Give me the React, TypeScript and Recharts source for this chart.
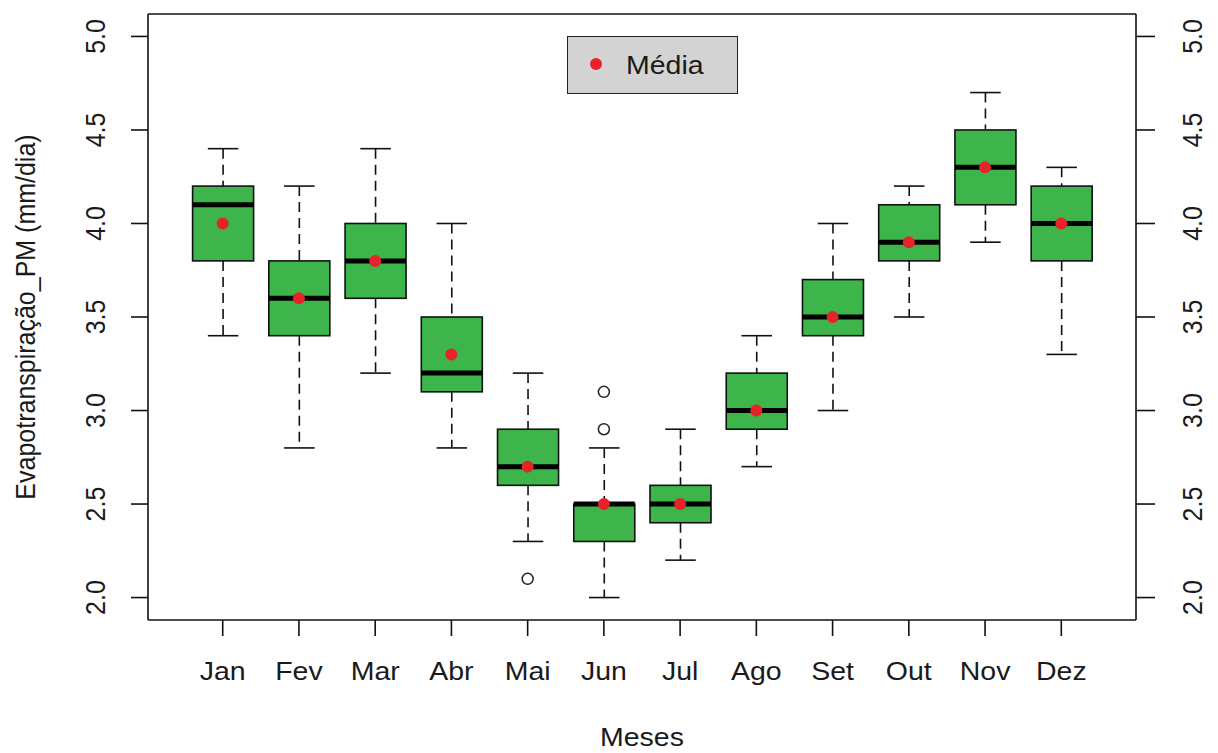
import React from 'react';
import {
  ComposedChart,
  Bar,
  Scatter,
  XAxis,
  YAxis,
} from 'recharts';

// ---- data ----
const months = ['Jan', 'Fev', 'Mar', 'Abr', 'Mai', 'Jun', 'Jul', 'Ago', 'Set', 'Out', 'Nov', 'Dez'];
const whiskerLow = [3.4, 2.8, 3.2, 2.8, 2.3, 2.0, 2.2, 2.7, 3.0, 3.5, 3.9, 3.3];
const q1 = [3.8, 3.4, 3.6, 3.1, 2.6, 2.3, 2.4, 2.9, 3.4, 3.8, 4.1, 3.8];
const medians = [4.1, 3.6, 3.8, 3.2, 2.7, 2.5, 2.5, 3.0, 3.5, 3.9, 4.3, 4.0];
const q3 = [4.2, 3.8, 4.0, 3.5, 2.9, 2.5, 2.6, 3.2, 3.7, 4.1, 4.5, 4.2];
const whiskerHigh = [4.4, 4.2, 4.4, 4.0, 3.2, 2.8, 2.9, 3.4, 4.0, 4.2, 4.7, 4.3];
const means = [4.0, 3.6, 3.8, 3.3, 2.7, 2.5, 2.5, 3.0, 3.5, 3.9, 4.3, 4.0];
const outlierMonth = [5, 6, 6];
const outlierValue = [2.1, 2.9, 3.1];
const yTicks = [2.0, 2.5, 3.0, 3.5, 4.0, 4.5, 5.0];
const xTicks = months.map((_, i) => i + 1);

const rows = months.map((m, i) => ({
  x: i + 1,
  month: m,
  range: [whiskerLow[i], whiskerHigh[i]],
  low: whiskerLow[i],
  q1: q1[i],
  median: medians[i],
  q3: q3[i],
  high: whiskerHigh[i],
  mean: means[i],
}));
const outliers = outlierMonth.map((m, i) => ({ x: m, y: outlierValue[i] }));

const FONT = '"Liberation Sans", Arial, Helvetica, sans-serif';
const TEXT = '#1a1a1a';
const SX = 1.14;
const FS = 25;
const GREEN = '#3db54a';
const RED = '#e8222a';

const BoxShape = (props: any) => {
  const { x, y, width, height, payload } = props;
  if (x == null || y == null) return null;
  const top = Math.min(y, y + height);
  const bot = Math.max(y, y + height);
  const lo = payload.low;
  const hi = payload.high;
  const pix = (v: number) => bot - ((v - lo) / (hi - lo)) * (bot - top);
  const cx = x + width / 2;
  const capW = width / 2;
  const yQ1 = pix(payload.q1);
  const yQ3 = pix(payload.q3);
  const yMed = pix(payload.median);
  return (
    <g>
      <line x1={cx} x2={cx} y1={top} y2={yQ3} stroke="#111" strokeWidth={1.6} strokeDasharray="10 6" />
      <line x1={cx} x2={cx} y1={yQ1} y2={bot} stroke="#111" strokeWidth={1.6} strokeDasharray="10 6" />
      <line x1={cx - capW / 2} x2={cx + capW / 2} y1={top} y2={top} stroke="#111" strokeWidth={1.6} />
      <line x1={cx - capW / 2} x2={cx + capW / 2} y1={bot} y2={bot} stroke="#111" strokeWidth={1.6} />
      <rect x={x} y={yQ3} width={width} height={yQ1 - yQ3} fill={GREEN} stroke="#111" strokeWidth={1.6} />
      <line x1={x} x2={x + width} y1={yMed} y2={yMed} stroke="#000" strokeWidth={5} />
    </g>
  );
};

const XTick = (props: any) => {
  const { x, y, payload } = props;
  return (
    <g transform={`translate(${x},${y + 36}) scale(${SX},1)`}>
      <text x={0} y={0} textAnchor="middle" dominantBaseline="central" fontFamily={FONT} fontSize={FS} fill={TEXT}>
        {months[payload.value - 1]}
      </text>
    </g>
  );
};

const makeYTick = (offset: number) => (props: any) => {
  const { x, y, payload } = props;
  return (
    <g transform={`translate(${x + offset},${y}) scale(${SX},1) rotate(-90)`}>
      <text x={0} y={0} textAnchor="middle" dominantBaseline="central" fontFamily={FONT} fontSize={FS} fill={TEXT}>
        {Number(payload.value).toFixed(1)}
      </text>
    </g>
  );
};
const LeftTick = makeYTick(-36);
const RightTick = makeYTick(37);

const XTitle = (props: any) => {
  const vb = props.viewBox || {};
  const cx = vb.x + vb.width / 2;
  return (
    <g transform={`translate(${cx},738) scale(${SX},1)`}>
      <text x={0} y={0} textAnchor="middle" dominantBaseline="central" fontFamily={FONT} fontSize={FS} fill={TEXT}>
        Meses
      </text>
    </g>
  );
};

const YTitle = (props: any) => {
  const vb = props.viewBox || {};
  const cy = vb.y + vb.height / 2;
  return (
    <g transform={`translate(25,${cy}) scale(${SX},1) rotate(-90)`}>
      <text x={0} y={0} textAnchor="middle" dominantBaseline="central" fontFamily={FONT} fontSize={FS} fill={TEXT}>
        Evapotranspiração_PM (mm/dia)
      </text>
    </g>
  );
};

const MeanDot = (props: any) => {
  const { cx, cy } = props;
  if (cx == null || cy == null) return null;
  return <circle cx={cx} cy={cy} r={6} fill={RED} />;
};

const OutlierDot = (props: any) => {
  const { cx, cy } = props;
  if (cx == null || cy == null) return null;
  return <circle cx={cx} cy={cy} r={5.5} fill="none" stroke="#222" strokeWidth={1.5} />;
};

const axisLine = { stroke: '#111', strokeWidth: 1.6 };
const tickLine = { stroke: '#111', strokeWidth: 1.6 };

export default function App() {
  return (
    <div style={{ position: 'absolute', left: 0, top: 0, width: 1218, height: 753, background: '#fff' }}>
      <ComposedChart
        width={1218}
        height={753}
        data={rows}
        margin={{ top: 0, right: 0, bottom: 0, left: 0 }}
      >
        <XAxis
          xAxisId="bottom"
          dataKey="x"
          type="number"
          domain={[0.02, 12.98]}
          allowDataOverflow
          ticks={xTicks}
          interval={0}
          height={133}
          tickSize={16}
          tickMargin={0}
          axisLine={axisLine}
          tickLine={tickLine}
          tick={<XTick />}
          label={<XTitle />}
        />
        <XAxis
          xAxisId="top"
          orientation="top"
          dataKey="x"
          type="number"
          domain={[0.02, 12.98]}
          allowDataOverflow
          height={14}
          tick={false}
          tickLine={false}
          axisLine={axisLine}
        />
        <YAxis
          yAxisId="left"
          type="number"
          domain={[1.88, 5.12]}
          allowDataOverflow
          ticks={yTicks}
          interval={0}
          width={148}
          tickSize={17}
          tickMargin={0}
          axisLine={axisLine}
          tickLine={tickLine}
          tick={<LeftTick />}
          label={<YTitle />}
        />
        <YAxis
          yAxisId="right"
          orientation="right"
          type="number"
          domain={[1.88, 5.12]}
          allowDataOverflow
          ticks={yTicks}
          interval={0}
          width={82}
          tickSize={19}
          tickMargin={0}
          axisLine={axisLine}
          tickLine={tickLine}
          tick={<RightTick />}
        />
        <Bar
          xAxisId="bottom"
          yAxisId="left"
          dataKey="range"
          barSize={61}
          shape={<BoxShape />}
          isAnimationActive={false}
        />
        <Scatter
          xAxisId="bottom"
          yAxisId="left"
          data={outliers}
          dataKey="y"
          shape={<OutlierDot />}
          isAnimationActive={false}
        />
        <Scatter
          xAxisId="bottom"
          yAxisId="left"
          dataKey="mean"
          shape={<MeanDot />}
          isAnimationActive={false}
        />
      </ComposedChart>
      <div
        style={{
          position: 'absolute',
          left: 567,
          top: 36,
          width: 171,
          height: 58,
          boxSizing: 'border-box',
          background: '#d3d3d3',
          border: '1.6px solid #222',
        }}
      >
        <svg width={171} height={58} style={{ position: 'absolute', left: -1.6, top: -1.6 }}>
          <circle cx={30} cy={29} r={6} fill={RED} />
          <g transform={`translate(60,31) scale(${SX},1)`}>
            <text x={0} y={0} dominantBaseline="central" fontFamily={FONT} fontSize={FS} fill={TEXT}>
              Média
            </text>
          </g>
        </svg>
      </div>
    </div>
  );
}
